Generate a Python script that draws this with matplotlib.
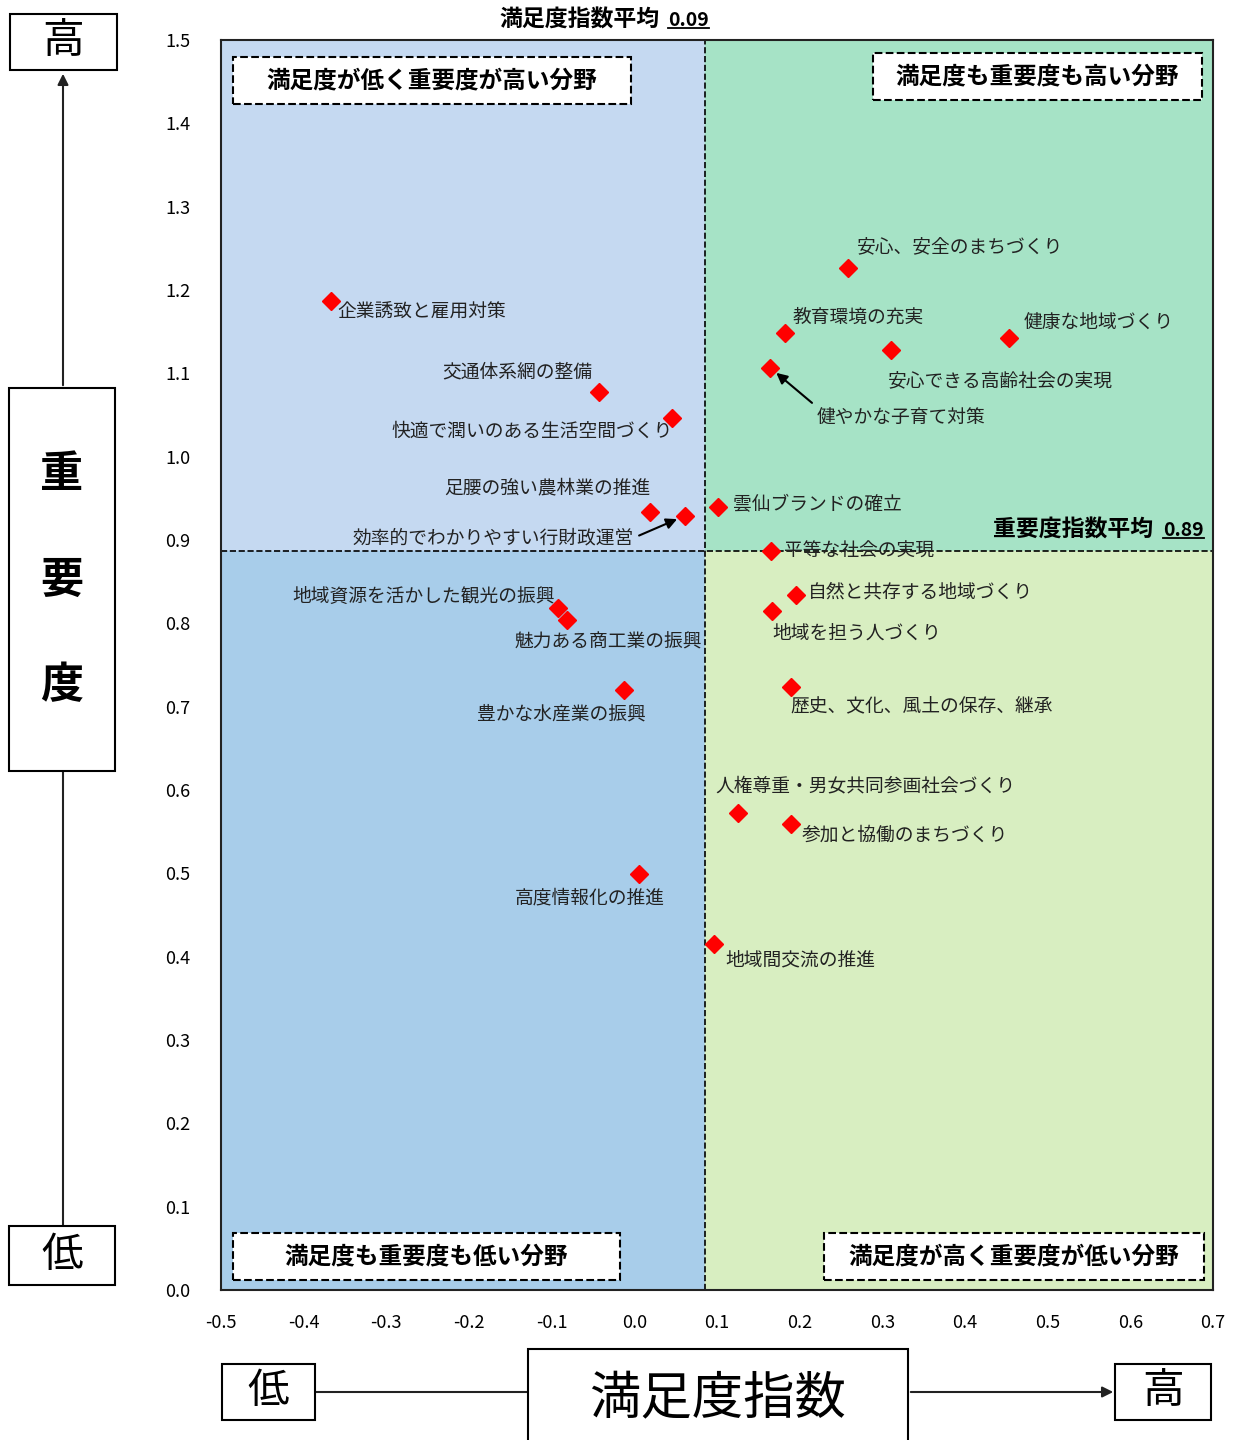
import matplotlib
matplotlib.use("Agg")
import matplotlib.pyplot as plt
from matplotlib.patches import Rectangle, FancyArrowPatch
from matplotlib.lines import Line2D

plt.rcParams['font.family'] = ['Noto Sans CJK JP', 'DejaVu Sans']

# data: satisfaction index (x) vs importance index (y)
labels = [
    "安心、安全のまちづくり", "企業誘致と雇用対策", "教育環境の充実", "健康な地域づくり",
    "安心できる高齢社会の実現", "健やかな子育て対策", "交通体系網の整備",
    "快適で潤いのある生活空間づくり", "雲仙ブランドの確立", "足腰の強い農林業の推進",
    "効率的でわかりやすい行財政運営", "平等な社会の実現", "自然と共存する地域づくり",
    "地域資源を活かした観光の振興", "地域を担う人づくり", "魅力ある商工業の振興",
    "豊かな水産業の振興", "歴史、文化、風土の保存、継承", "人権尊重・男女共同参画社会づくり",
    "参加と協働のまちづくり", "高度情報化の推進", "地域間交流の推進",
]
satisfaction = [0.259, -0.367, 0.182, 0.453, 0.311, 0.164, -0.043, 0.045, 0.101, 0.019,
                0.061, 0.165, 0.196, -0.092, 0.167, -0.081, -0.013, 0.189, 0.125, 0.190,
                0.006, 0.096]
importance = [1.226, 1.187, 1.148, 1.143, 1.128, 1.107, 1.078, 1.046, 0.940, 0.934,
              0.929, 0.887, 0.834, 0.818, 0.815, 0.804, 0.720, 0.724, 0.573, 0.559,
              0.499, 0.415]
sat_avg = 0.086
imp_avg = 0.887
sat_avg_label = "0.09"
imp_avg_label = "0.89"

# label placement: (dx px, dy px, ha, arrow start relpos or None)
label_pos = [
    (8, 22, 'left', None), (6, -11, 'left', None), (8, 16, 'left', None),
    (15, 15, 'left', None), (-4, -31, 'left', None), (47, -50, 'left', (0, 1)),
    (-82, 20, 'center', None), (1, -13, 'right', None), (15, 2, 'left', None),
    (0, 24, 'right', None), (-51, -22, 'right', (1, 0.5)), (13, 0, 'left', None),
    (12, 3, 'left', None), (-3, 12, 'right', None), (0, -22, 'left', None),
    (41, -22, 'center', None), (-62, -24, 'center', None), (0, -19, 'left', None),
    (-22, 27, 'left', None), (10, -11, 'left', None), (-50, -24, 'center', None),
    (12, -16, 'left', None),
]

W, H = 1242, 1440
fig = plt.figure(figsize=(W / 100, H / 100), dpi=100)
ax = fig.add_axes([221 / W, 1 - 1290 / H, (1213 - 221) / W, (1290 - 40) / H])
xmin, xmax, ymin, ymax = -0.5, 0.7, 0.0, 1.5
ax.set_xlim(xmin, xmax)
ax.set_ylim(ymin, ymax)

# quadrant backgrounds
ax.add_patch(Rectangle((xmin, imp_avg), sat_avg - xmin, ymax - imp_avg, color='#c5d9f1', zorder=0))
ax.add_patch(Rectangle((sat_avg, imp_avg), xmax - sat_avg, ymax - imp_avg, color='#a6e3c6', zorder=0))
ax.add_patch(Rectangle((xmin, ymin), sat_avg - xmin, imp_avg - ymin, color='#a8cdea', zorder=0))
ax.add_patch(Rectangle((sat_avg, ymin), xmax - sat_avg, imp_avg - ymin, color='#d8eec1', zorder=0))
ax.axvline(sat_avg, color='black', ls='--', lw=1.2, zorder=1)
ax.axhline(imp_avg, color='black', ls='--', lw=1.2, zorder=1)

ax.plot(satisfaction, importance, 'D', color='#ff0000', markersize=9, ls='none', zorder=3)

for name, x, y, (dx, dy, ha, rel) in zip(labels, satisfaction, importance, label_pos):
    if rel is not None:
        ax.annotate(name, (x, y), xytext=(dx, dy), textcoords='offset pixels',
                    ha=ha, va='center', fontsize=13.5, color='#222222',
                    arrowprops=dict(arrowstyle='-|>', color='black', lw=1.5, relpos=rel,
                                    shrinkA=2, shrinkB=6, mutation_scale=16),
                    zorder=4)
    else:
        ax.annotate(name, (x, y), xytext=(dx, dy), textcoords='offset pixels',
                    ha=ha, va='center', fontsize=13.5, color='#222222', zorder=4)

ax.set_xticks([-0.5 + 0.1 * i for i in range(13)])
ax.set_yticks([0.1 * i for i in range(16)])
ax.set_xticklabels([f"{-0.5 + 0.1 * i:.1f}".replace("-0.0", "0.0") for i in range(13)])
ax.set_yticklabels([f"{0.1 * i:.1f}" for i in range(16)])
ax.tick_params(length=0, labelsize=13)
ax.tick_params(axis='y', pad=22)
ax.tick_params(axis='x', pad=17)
for s in ax.spines.values():
    s.set_linewidth(1.5)
    s.set_color('#222222')


def fx(p):
    return p / W


def fy(p):
    return 1 - p / H


def box(x0, y0, x1, y1, text, size, ls='-', bold=False, spacing=1.2):
    fig.patches.append(Rectangle((fx(x0), fy(y1)), fx(x1) - fx(x0), fy(y0) - fy(y1),
                                 transform=fig.transFigure, facecolor='white',
                                 edgecolor='black', lw=1.5, ls=ls, zorder=5))
    fig.text(fx((x0 + x1) / 2), fy((y0 + y1) / 2), text, ha='center', va='center',
             fontsize=size, fontweight='bold' if bold else 'normal',
             linespacing=spacing, zorder=6)


# quadrant captions
box(233, 57, 631, 104, "満足度が低く重要度が高い分野", 17, ls='--', bold=True)
box(873, 53, 1202, 100, "満足度も重要度も高い分野", 17, ls='--', bold=True)
box(233, 1233, 620, 1280, "満足度も重要度も低い分野", 17, ls='--', bold=True)
box(824, 1233, 1204, 1280, "満足度が高く重要度が低い分野", 17, ls='--', bold=True)

# left axis legend
fig.add_artist(FancyArrowPatch((fx(63), fy(388)), (fx(63), fy(71)), transform=fig.transFigure,
                               arrowstyle='-|>', mutation_scale=16, color='#222222', lw=1.5))
fig.add_artist(Line2D([fx(63), fx(63)], [fy(771), fy(1226)], transform=fig.transFigure,
                      color='#222222', lw=1.5))
box(10, 14, 117, 70, "高", 30)
box(9, 388, 115, 771, "重\n要\n度", 31, bold=True, spacing=2.75)
box(9, 1226, 115, 1285, "低", 30)

# bottom axis legend
fig.add_artist(Line2D([fx(315), fx(528)], [fy(1392), fy(1392)], transform=fig.transFigure,
                      color='#222222', lw=1.5))
fig.add_artist(FancyArrowPatch((fx(908), fy(1392)), (fx(1116), fy(1392)), transform=fig.transFigure,
                               arrowstyle='-|>', mutation_scale=16, color='#222222', lw=1.5))
box(222, 1364, 315, 1420, "低", 30)
box(528, 1349, 908, 1450, "満足度指数", 37)
box(1115, 1364, 1211, 1420, "高", 30)

# average captions
t1 = fig.text(fx(660), fy(20), "満足度指数平均", ha='right', va='center', fontsize=16.5, fontweight='bold')
t2 = fig.text(fx(668), fy(20), sat_avg_label, ha='left', va='center', fontsize=14, fontweight='bold')
t3 = fig.text(fx(1153), fy(530), "重要度指数平均", ha='right', va='center', fontsize=16.5, fontweight='bold')
t4 = fig.text(fx(1163), fy(530), imp_avg_label, ha='left', va='center', fontsize=14, fontweight='bold')
fig.canvas.draw()
r = fig.canvas.get_renderer()
for t in (t2, t4):
    bb = t.get_window_extent(r).transformed(fig.transFigure.inverted())
    fig.add_artist(Line2D([bb.x0, bb.x1], [bb.y0 + 0.001, bb.y0 + 0.001],
                          transform=fig.transFigure, color='black', lw=1.3))

fig.savefig("out.png", dpi=100)
